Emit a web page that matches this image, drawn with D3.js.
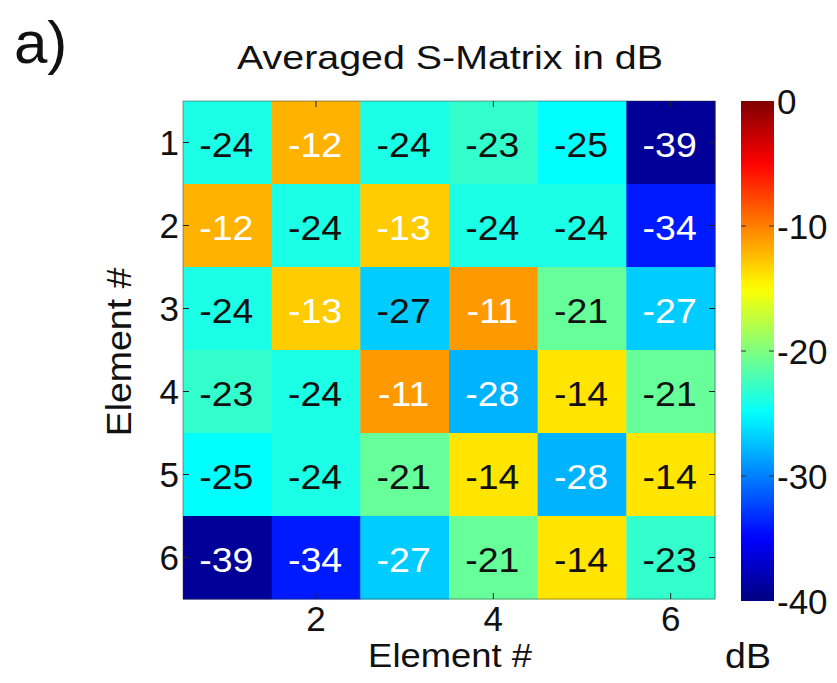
<!DOCTYPE html>
<html>
<head>
<meta charset="utf-8">
<script src="https://cdn.jsdelivr.net/npm/d3@7"></script>
<style>
body { margin:0; background:#fff; }
text { font-family: "Liberation Sans", Arial, Helvetica, sans-serif; fill:#111; }
</style>
</head>
<body>
<div id="chart"></div>
<script>
// element numbers along both axes
var elements = [1,2,3,4,5,6];
var xTicks = [2,4,6];
var cbTicks = [0,-10,-20,-30,-40];

// averaged S-matrix, dB (row = element on y, column = element on x)
var row1 = [-24,-12,-24,-23,-25,-39];
var row2 = [-12,-24,-13,-24,-24,-34];
var row3 = [-24,-13,-27,-11,-21,-27];
var row4 = [-23,-24,-11,-28,-14,-21];
var row5 = [-25,-24,-21,-14,-28,-14];
var row6 = [-39,-34,-27,-21,-14,-23];
var rows = [row1,row2,row3,row4,row5,row6];

// which cell labels are printed in white
var white1 = [0,1,0,0,0,1];
var white2 = [1,0,1,0,0,1];
var white3 = [0,1,0,1,0,1];
var white4 = [0,0,1,1,0,0];
var white5 = [0,0,0,0,1,0];
var white6 = [1,1,1,0,0,0];
var whites = [white1,white2,white3,white4,white5,white6];

var W = 837, H = 683;
var svg = d3.select("#chart").append("svg").attr("width",W).attr("height",H);

// matlab jet
function jet(t){
	var r = Math.max(0,Math.min(1,1.5-Math.abs(4*t-3)));
	var g = Math.max(0,Math.min(1,1.5-Math.abs(4*t-2)));
	var b = Math.max(0,Math.min(1,1.5-Math.abs(4*t-1)));
	return d3.rgb(r*255,g*255,b*255).toString();
}
var color = d3.scaleSequential(jet).domain([-40,0]);

var x = d3.scaleBand().domain(elements).range([183,715]);
var y = d3.scaleBand().domain(elements).range([101,599]);

var cells = [];
rows.forEach(function(r,i){
	r.forEach(function(v,j){
		cells.push({row:elements[i], col:elements[j], v:v, white:whites[i][j]});
	});
});

svg.selectAll("rect.cell").data(cells).enter().append("rect")
	.attr("class","cell")
	.attr("x",d=>x(d.col)).attr("y",d=>y(d.row))
	.attr("width",x.bandwidth()+0.5).attr("height",y.bandwidth()+0.5)
	.attr("fill",d=>color(d.v));

// text a bit wider than plain arial, like the original
function wide(sel,cx,cy){
	sel.attr("transform","translate("+cx+","+cy+") scale(1.07,1)");
}

svg.selectAll("text.val").data(cells).enter().append("text")
	.attr("class","val")
	.attr("transform",d=>"translate("+(x(d.col)+x.bandwidth()/2-1)+","+(y(d.row)+y.bandwidth()/2+14)+") scale(1.07,1)")
	.attr("text-anchor","middle")
	.style("font-size","35px")
	.style("fill",d=>d.white ? "#fff" : "#111")
	.text(d=>d.v);

// box + inward ticks
svg.append("rect").attr("x",183).attr("y",101).attr("width",532).attr("height",498)
	.attr("fill","none").attr("stroke","#333").attr("stroke-width",0.8).attr("stroke-opacity",0.6);

var xAxis = d3.axisBottom(x).tickValues(xTicks).tickSize(0).tickPadding(8);
var gx = svg.append("g").attr("transform","translate(0,599)").call(xAxis);
var yAxis = d3.axisLeft(y).tickSize(0).tickPadding(4);
var gy = svg.append("g").attr("transform","translate(183,0)").call(yAxis);
[gx,gy].forEach(function(g){
	g.select(".domain").remove();
	g.selectAll("text").style("font-size","35px").attr("fill","#111");
});
gx.selectAll("text").attr("dy","0.68em");
gy.selectAll("text").attr("dy","0.36em");

svg.selectAll("g.xt").data(xTicks).enter().append("g").each(function(d){
	var cx = x(d)+x.bandwidth()/2;
	d3.select(this).append("line").attr("x1",cx).attr("x2",cx).attr("y1",599).attr("y2",593);
	d3.select(this).append("line").attr("x1",cx).attr("x2",cx).attr("y1",101).attr("y2",107);
}).selectAll("line").attr("stroke","#222").attr("stroke-width",1);
svg.selectAll("g.yt").data(elements).enter().append("g").each(function(d){
	var cy = y(d)+y.bandwidth()/2;
	d3.select(this).append("line").attr("x1",183).attr("x2",189).attr("y1",cy).attr("y2",cy);
	d3.select(this).append("line").attr("x1",715).attr("x2",709).attr("y1",cy).attr("y2",cy);
}).selectAll("line").attr("stroke","#222").attr("stroke-width",1);

// labels
svg.append("text").attr("x",237).attr("y",69)
	.attr("textLength",426).attr("lengthAdjust","spacingAndGlyphs")
	.style("font-size","33px").text("Averaged S-Matrix in dB");
svg.append("text").call(wide,450,667).attr("text-anchor","middle")
	.style("font-size","34px").text("Element #");
svg.append("text").attr("transform","translate(131,352) rotate(-90) scale(1.07,1)").attr("text-anchor","middle")
	.style("font-size","35px").text("Element #");
svg.append("text").attr("x",14).attr("y",63)
	.style("font-size","60px").text("a)");

// colorbar
var cbx = 741, cbw = 33;
var cy = d3.scaleLinear().domain([-40,0]).range([601,101]);
var grad = svg.append("defs").append("linearGradient").attr("id","jet")
	.attr("x1","0").attr("y1","1").attr("x2","0").attr("y2","0");
grad.selectAll("stop").data(d3.range(0,1.0001,0.02)).enter().append("stop")
	.attr("offset",d=>d).attr("stop-color",d=>jet(d));
svg.append("rect").attr("x",cbx).attr("y",101).attr("width",cbw).attr("height",500)
	.attr("fill","url(#jet)");

var cAxis = d3.axisRight(cy).tickValues(cbTicks).tickSize(0).tickPadding(3).tickFormat(d=>String(d));
var gc = svg.append("g").attr("transform","translate("+(cbx+cbw)+",0)").call(cAxis);
gc.select(".domain").remove();
gc.selectAll("text").style("font-size","35px").attr("fill","#111").attr("dy","0.36em");
svg.selectAll("g.ct").data(cbTicks.slice(1,4)).enter().append("g").each(function(d){
	d3.select(this).append("line").attr("x1",cbx).attr("x2",cbx+5).attr("y1",cy(d)).attr("y2",cy(d));
	d3.select(this).append("line").attr("x1",cbx+cbw).attr("x2",cbx+cbw-5).attr("y1",cy(d)).attr("y2",cy(d));
}).selectAll("line").attr("stroke","#333").attr("stroke-width",1);
svg.append("text").call(wide,748,668).attr("text-anchor","middle")
	.style("font-size","35px").text("dB");
</script>
</body>
</html>
